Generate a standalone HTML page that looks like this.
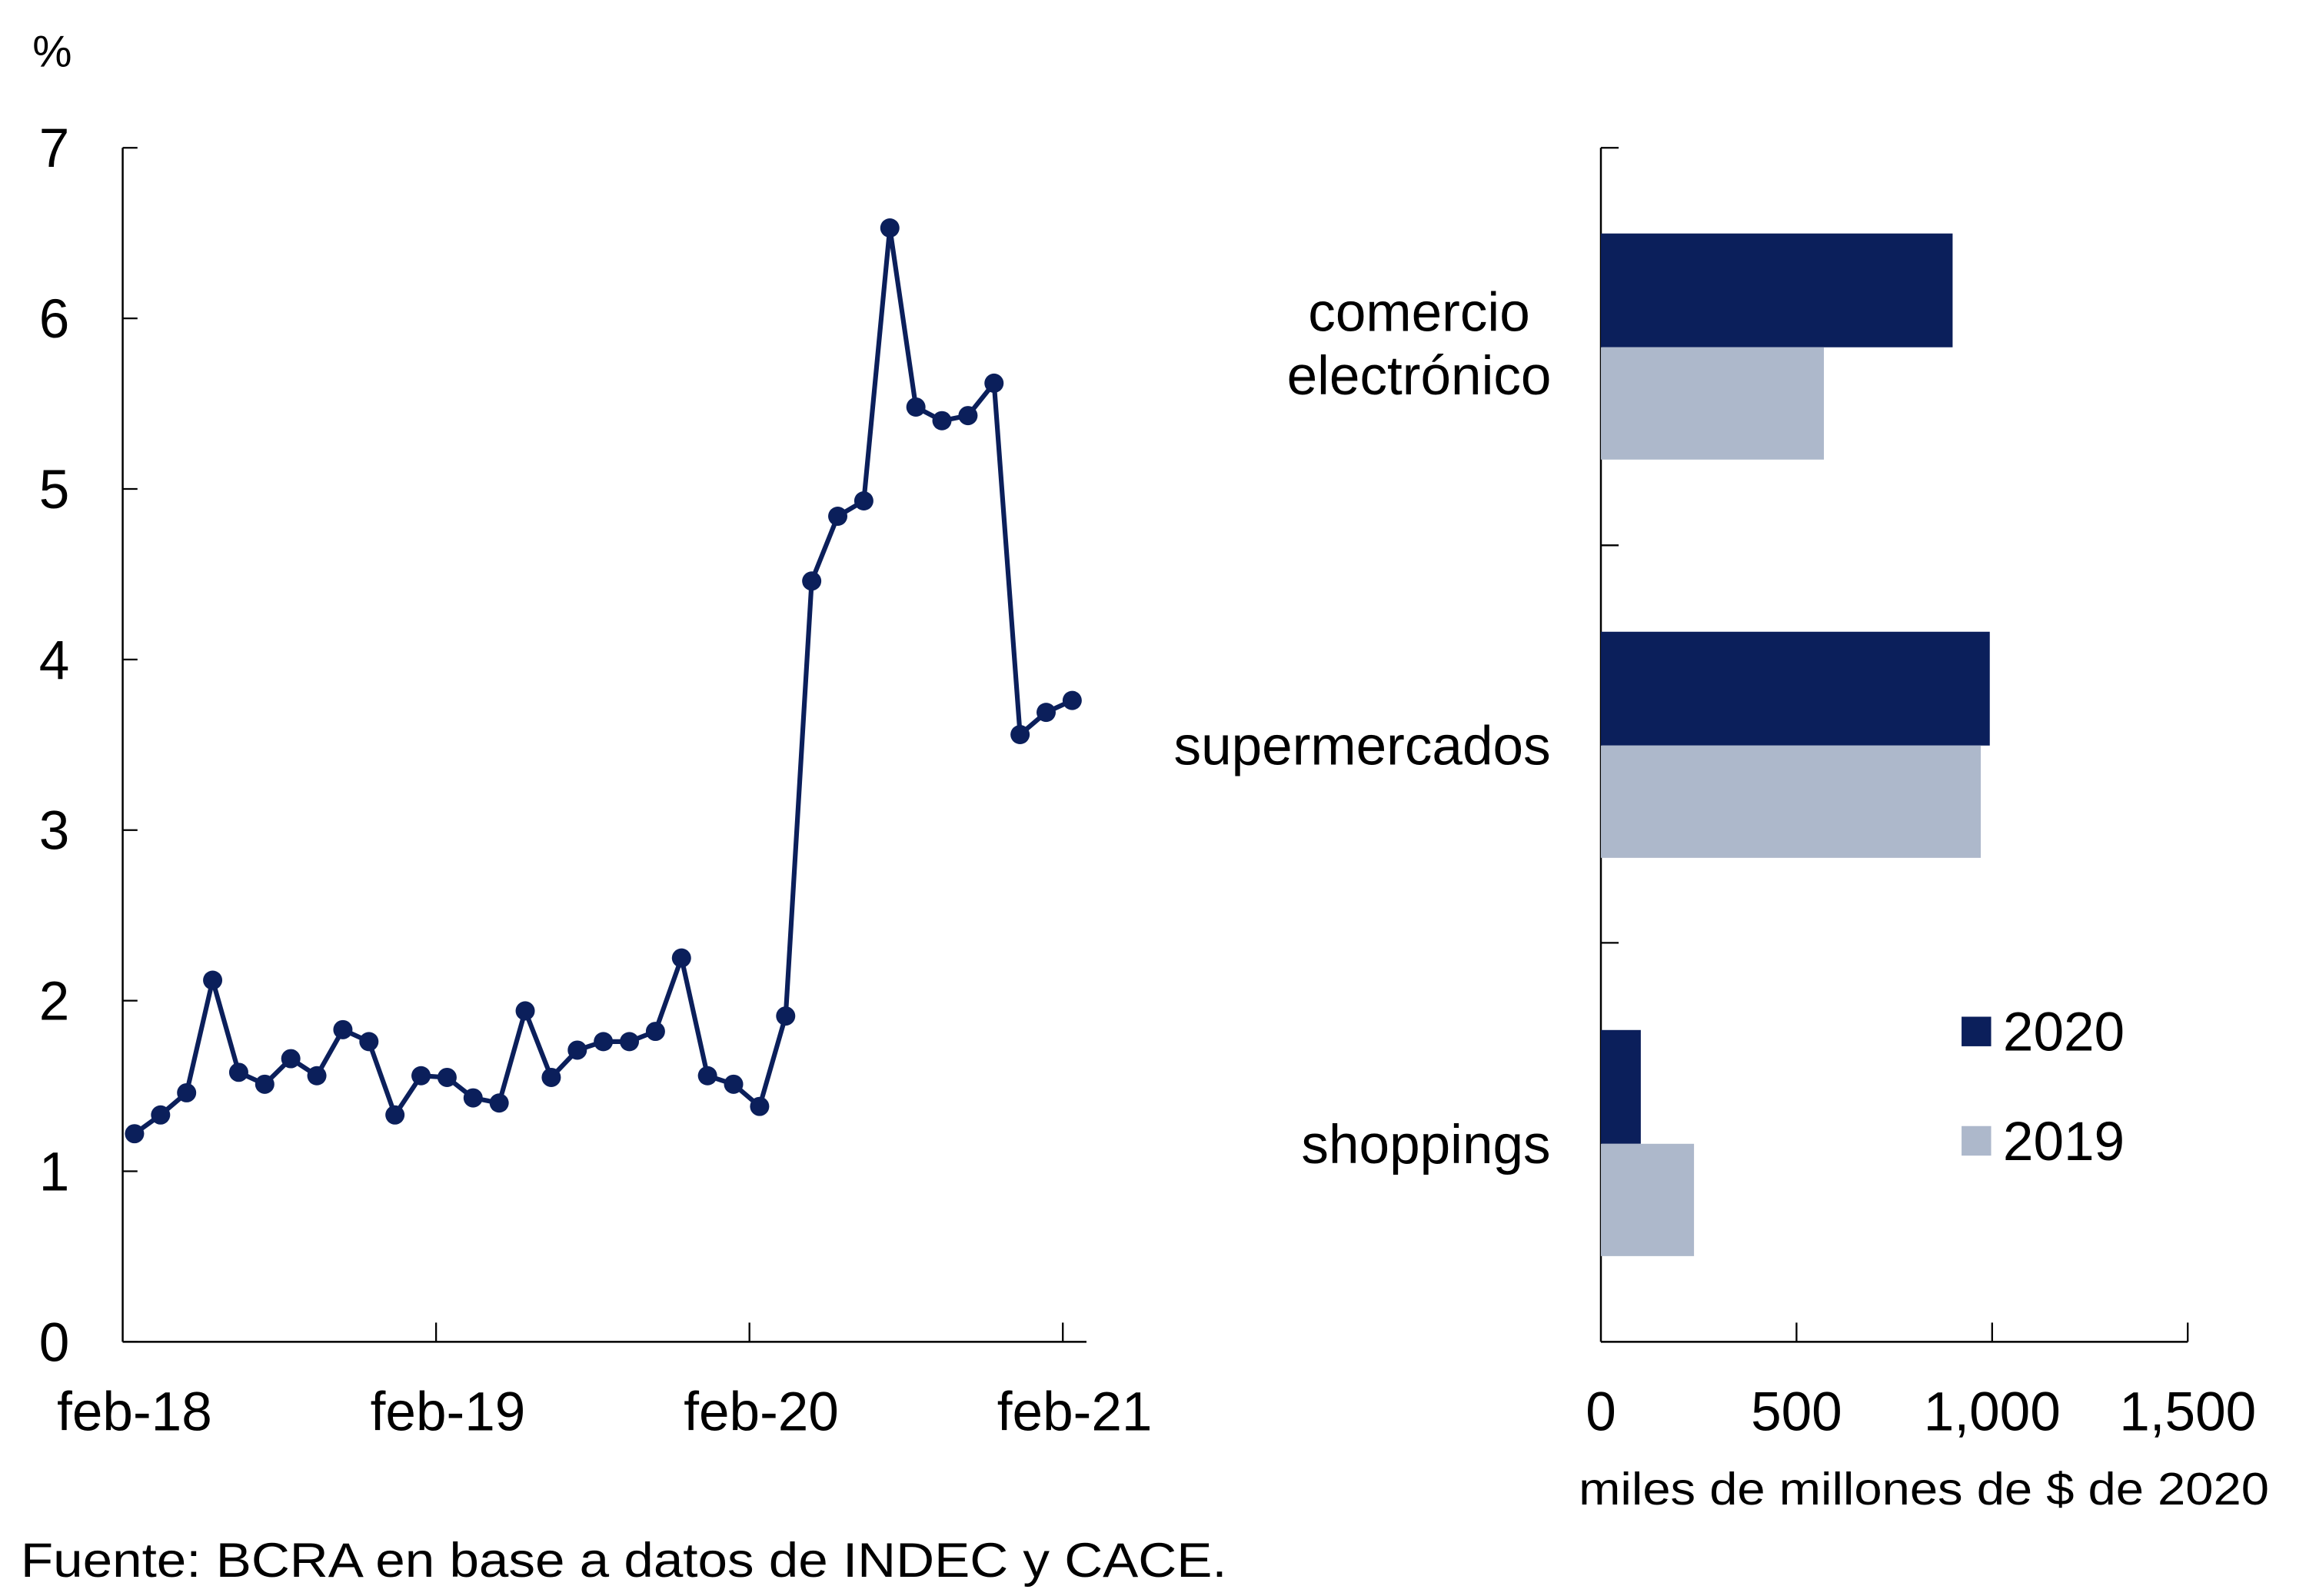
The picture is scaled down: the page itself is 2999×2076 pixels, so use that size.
<!DOCTYPE html>
<html><head><meta charset="utf-8"><style>
html,body{margin:0;padding:0;background:#fff}
svg{display:block}
text{font-family:"Liberation Sans",sans-serif;fill:#000}
</style></head><body>
<svg id="chart" width="2999" height="2076" viewBox="0 0 1560 1080" preserveAspectRatio="none" xmlns="http://www.w3.org/2000/svg">
<g id="left"></g>
<g id="right"></g>
<text x="14" y="1067" font-size="33" textLength="816" lengthAdjust="spacingAndGlyphs">Fuente: BCRA en base a datos de INDEC y CACE.</text>
</svg>
<script>
const lineValues=[1.22,1.33,1.46,2.12,1.58,1.51,1.66,1.56,1.83,1.76,1.33,1.56,1.55,1.43,1.40,1.94,1.55,1.71,1.76,1.76,1.82,2.25,1.56,1.51,1.38,1.91,4.46,4.84,4.93,6.53,5.48,5.40,5.43,5.62,3.56,3.69,3.76];
const yTicks=[0,1,2,3,4,5,6,7];
const xTickLabels=["feb-18","feb-19","feb-20","feb-21"];
const categories=["comercio electrónico","supermercados","shoppings"];
const values2020=[899,994,102];
const values2019=[570,971,238];
const xBarTicks=[0,500,1000,1500];
const xBarLabels=["0","500","1,000","1,500"];

const NS="http://www.w3.org/2000/svg";
function mk(parent,tag,attrs,text){const e=document.createElementNS(NS,tag);for(const k in attrs)e.setAttribute(k,attrs[k]);if(text!=null)e.textContent=text;parent.appendChild(e);return e;}
const FS=37;
const L=document.getElementById('left');
const y=v=>908-v*(808/7);
const xm=i=>91+i*17.62;
const xTickPos=k=>83+k*212;
mk(L,'line',{x1:83,y1:100,x2:83,y2:908,stroke:'#000','stroke-width':1.3});
mk(L,'line',{x1:83,y1:908,x2:735,y2:908,stroke:'#000','stroke-width':1.3});
yTicks.forEach(v=>{
 mk(L,'line',{x1:83,y1:y(v),x2:93,y2:y(v),stroke:'#000','stroke-width':1.2});
 const t=mk(L,'text',{x:47,y:y(v)+13,'font-size':FS,'text-anchor':'end'},v);
 
 
});
xTickLabels.forEach((s,k)=>{
 if(k>0)mk(L,'line',{x1:xTickPos(k),y1:895,x2:xTickPos(k),y2:908,stroke:'#000','stroke-width':1.2});
 const t=mk(L,'text',{x:xTickPos(k)+8,y:968,'font-size':FS,'text-anchor':'middle'},s);
 
 
});
const ylab=mk(L,'text',{x:22,y:45,'font-size':30},'%');


const path=mk(L,'polyline',{points:lineValues.map((v,i)=>xm(i)+','+y(v)).join(' '),fill:'none',stroke:'#0b1f5b','stroke-width':3.2});


lineValues.forEach((v,i)=>{
 const c=mk(L,'circle',{cx:xm(i),cy:y(v),r:6.5,fill:'#0b1f5b'});
 
 
});

const R=document.getElementById('right');
const bx=v=>1083+v*(397/1500);
mk(R,'line',{x1:1083,y1:100,x2:1083,y2:908,stroke:'#000','stroke-width':1.3});
mk(R,'line',{x1:1083,y1:908,x2:1480,y2:908,stroke:'#000','stroke-width':1.3});
[100,369,638].forEach(yy=>mk(R,'line',{x1:1083,y1:yy,x2:1095,y2:yy,stroke:'#000','stroke-width':1.2}));
xBarTicks.forEach((v,k)=>{
 if(k>0)mk(R,'line',{x1:bx(v),y1:895,x2:bx(v),y2:908,stroke:'#000','stroke-width':1.2});
 const t=mk(R,'text',{x:bx(v),y:968,'font-size':FS,'text-anchor':'middle'},xBarLabels[k]);
 
 
});
const xt=mk(R,'text',{x:1068,y:1018,'font-size':31,textLength:467,lengthAdjust:'spacingAndGlyphs'},'miles de millones de $ de 2020');


categories.forEach((c,i)=>{
 const top=158+i*269.5;
 const b1=mk(R,'rect',{x:1083,y:top,width:bx(values2020[i])-1083,height:77,fill:'#0b1f5b'});
 
 
 const b2=mk(R,'rect',{x:1083,y:top+77,width:bx(values2019[i])-1083,height:76,fill:'#adb8cb'});
 
 
 let t;
 if(i===0){
  t=mk(R,'text',{x:960,y:224,'font-size':FS,'text-anchor':'middle'});
  mk(t,'tspan',{x:960,y:224},'comercio');
  mk(t,'tspan',{x:960,y:267},'electrónico');
 } else {
  t=mk(R,'text',{x:1049,y:top+77+13,'font-size':FS,'text-anchor':'end'},c);
 }
 
 
});
[['2020','#0b1f5b',688],['2019','#adb8cb',762]].forEach(([s,col,yy])=>{
 const g=mk(R,'g',{});
 
 
 mk(g,'rect',{x:1327,y:yy,width:20,height:20,fill:col});
 mk(g,'text',{x:1355,y:yy+23,'font-size':FS},s);
});
</script>
</body></html>
